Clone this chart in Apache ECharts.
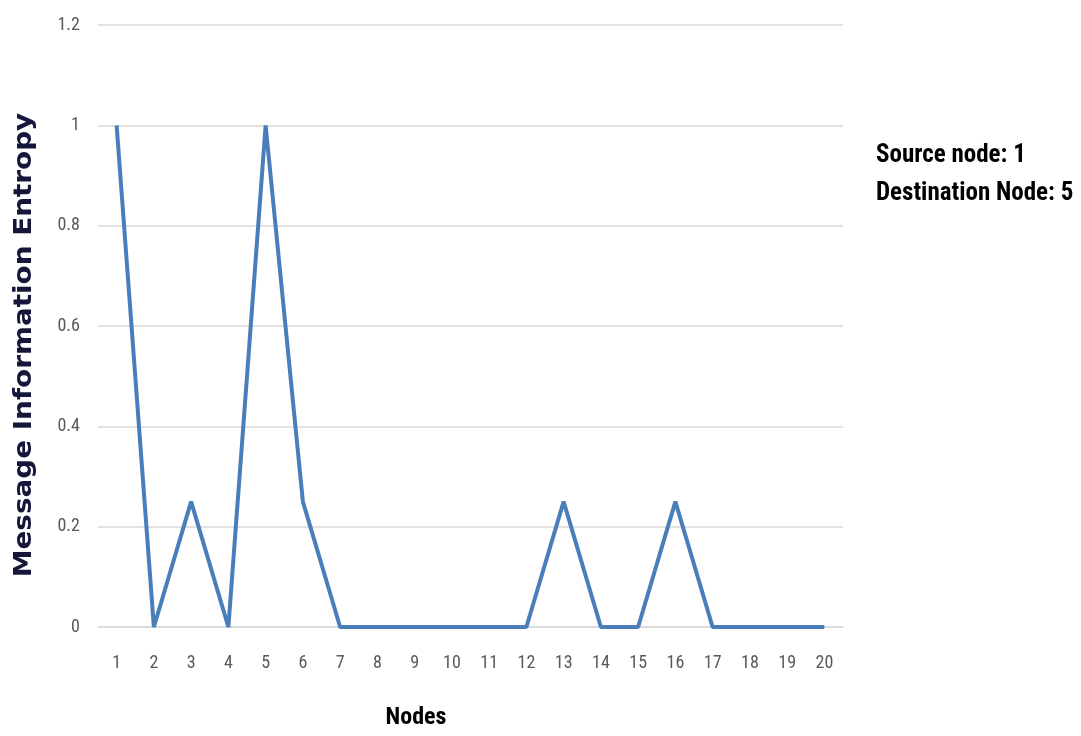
<!DOCTYPE html>
<html>
<head>
<meta charset="utf-8">
<script src="https://cdn.jsdelivr.net/npm/echarts@6/dist/echarts.min.js"></script>
<style>
  html, body { margin: 0; padding: 0; background: #fff; }
  #chart { width: 1081px; height: 736px; }
</style>
</head>
<body>
<div id="chart"></div>
<script>
// Node numbers along the x axis
const nodes = ['1','2','3','4','5','6','7','8','9','10','11','12','13','14','15','16','17','18','19','20'];
// Message information entropy for each node
const entropy = [1, 0, 0.25, 0, 1, 0.25, 0, 0, 0, 0, 0, 0, 0.25, 0, 0, 0.25, 0, 0, 0, 0];
// Notes shown to the right of the plot
const notes = ['Source node: 1', 'Destination Node: 5'];

const narrow = '"Liberation Sans Narrow", "Arial Narrow", "Roboto Condensed", sans-serif';

const chart = echarts.init(document.getElementById('chart'));
chart.setOption({
  backgroundColor: '#ffffff',
  animation: false,
  grid: { left: 98, right: 238, top: 25, bottom: 109 },
  xAxis: {
    type: 'category',
    data: nodes,
    boundaryGap: true,
    axisLine: { show: true, lineStyle: { color: '#d9d9d9', width: 1.5 } },
    axisTick: { show: false },
    axisLabel: { color: '#595959', fontFamily: narrow, fontSize: 18, margin: 27 }
  },
  yAxis: {
    type: 'value',
    min: 0, max: 1.2, interval: 0.2,
    axisLine: { show: false },
    axisTick: { show: false },
    splitLine: { lineStyle: { color: '#d9d9d9', width: 1.5 } },
    axisLabel: {
      color: '#595959', fontFamily: narrow, fontSize: 18, margin: 18,
      formatter: v => String(Math.round(v * 10) / 10)
    }
  },
  series: [{
    type: 'line',
    data: entropy,
    symbol: 'none',
    lineStyle: { color: '#4a7ebb', width: 4 },
    itemStyle: { color: '#4a7ebb' }
  }],
  graphic: [
    {
      type: 'text', left: 876, top: 137,
      style: { text: notes.join('\n'), fontFamily: narrow, fontWeight: 'bold', fontSize: 25, lineHeight: 38, fill: '#000' }
    },
    {
      type: 'text', x: 416, y: 718,
      style: { text: 'Nodes', fontFamily: narrow, fontWeight: 'bold', fontSize: 24, fill: '#000', align: 'center', verticalAlign: 'middle' }
    },
    {
      type: 'text', x: 25, y: 345, rotation: Math.PI / 2, scaleX: 1.16,
      style: { text: 'Message Information Entropy', fontFamily: '"DejaVu Sans", sans-serif', fontWeight: 'bold', fontSize: 24, fill: '#14163a', align: 'center', verticalAlign: 'middle' }
    }
  ]
});
</script>
</body>
</html>
